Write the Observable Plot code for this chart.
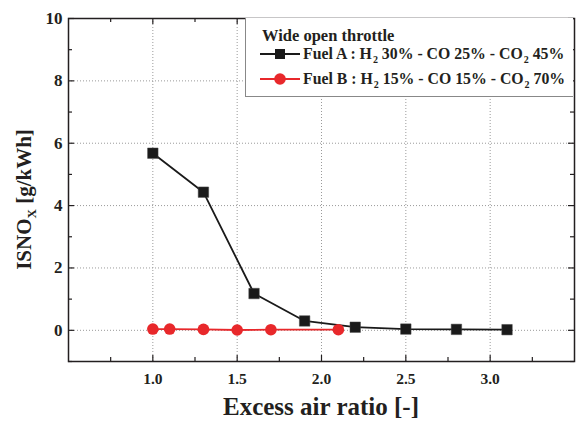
<!DOCTYPE html>
<html>
<head>
<meta charset="utf-8">
<script src="https://cdn.jsdelivr.net/npm/d3@7"></script>
<script src="https://cdn.jsdelivr.net/npm/@observablehq/plot@0.6"></script>
<style>
  body { margin: 0; background: #fff; }
  #chart { position: relative; width: 576px; height: 425px; font-family: "Liberation Serif", serif; color: #231f20; }
  #chart svg text { font-family: "Liberation Serif", serif; }
  #legend { position: absolute; left: 245px; top: 18px; width: 328px; height: 79px; background: #fff; border: 1px solid #888; border-top: none; border-right: none; box-sizing: border-box; font-weight: bold; }
  #legend .title { position: absolute; left: 16px; top: 8px; font-size: 16.5px; }
  #legend .item { position: absolute; left: 14px; font-size: 15.8px; white-space: nowrap; display: flex; align-items: center; }
  #legend .item svg { margin-right: 3px; }
  #legend sub { font-size: 10px; vertical-align: -4px; line-height: 0; margin-left: 1px; }
</style>
</head>
<body>
<div id="chart"></div>
<script>
// Data
const fuelAx = [1.0, 1.3, 1.6, 1.9, 2.2, 2.5, 2.8, 3.1];
const fuelAy = [5.68, 4.43, 1.18, 0.30, 0.10, 0.04, 0.03, 0.02];
const fuelBx = [1.0, 1.1, 1.3, 1.5, 1.7, 2.1];
const fuelBy = [0.04, 0.04, 0.03, 0.01, 0.02, 0.02];
const xMajor = [1.0, 1.5, 2.0, 2.5, 3.0];
const xMinor = [0.75, 1.25, 1.75, 2.25, 2.75, 3.25];
const yMajor = [0, 2, 4, 6, 8, 10];
const yMinor = [-1, 1, 3, 5, 7, 9];
const yGrid = [0, 2, 4, 6, 8];

const seriesA = fuelAx.map((x, i) => ({x, y: fuelAy[i]}));
const seriesB = fuelBx.map((x, i) => ({x, y: fuelBy[i]}));

const W = 576, H = 425, mL = 68, mR = 2, mT = 18, mB = 64;
const fw = W - mL - mR, fh = H - mT - mB;
const ink = "#231f20";
const serif = "Liberation Serif";
const majorLen = 6, minorLen = 4;

const plot = Plot.plot({
  width: W, height: H,
  marginLeft: mL, marginRight: mR, marginTop: mT, marginBottom: mB,
  style: {fontFamily: serif, color: ink, background: "transparent"},
  x: {domain: [0.5, 3.5]},
  y: {domain: [-1, 10]},
  marks: [
    Plot.gridX(xMajor, {stroke: "#9a9a9a", strokeOpacity: 1, strokeDasharray: "1,2"}),
    Plot.gridY(yGrid, {stroke: "#9a9a9a", strokeOpacity: 1, strokeDasharray: "1,2"}),
    // inward ticks
    Plot.tickX(xMajor, {x: d => d, insetTop: fh - majorLen, stroke: ink, strokeWidth: 1.2}),
    Plot.tickX(xMajor, {x: d => d, insetBottom: fh - majorLen, stroke: ink, strokeWidth: 1.2}),
    Plot.tickX(xMinor, {x: d => d, insetTop: fh - minorLen, stroke: ink, strokeWidth: 1.2}),
    Plot.tickX(xMinor, {x: d => d, insetBottom: fh - minorLen, stroke: ink, strokeWidth: 1.2}),
    Plot.tickY(yMajor, {y: d => d, insetRight: fw - majorLen, stroke: ink, strokeWidth: 1.2}),
    Plot.tickY(yMajor, {y: d => d, insetLeft: fw - majorLen, stroke: ink, strokeWidth: 1.2}),
    Plot.tickY(yMinor, {y: d => d, insetRight: fw - minorLen, stroke: ink, strokeWidth: 1.2}),
    Plot.tickY(yMinor, {y: d => d, insetLeft: fw - minorLen, stroke: ink, strokeWidth: 1.2}),
    Plot.axisX(xMajor, {tickSize: 0, tickPadding: 11, tickFormat: d3.format(".1f"), fontSize: 15.5, fontWeight: "bold", fontFamily: serif, label: null}),
    Plot.axisY(yMajor, {tickSize: 0, tickPadding: 6, fontSize: 17, fontWeight: "bold", fontFamily: serif, label: null}),
    Plot.frame({stroke: ink, strokeWidth: 1.5}),
    Plot.line(seriesA, {x: "x", y: "y", stroke: "#1a1a1a", strokeWidth: 1.8}),
    Plot.dot(seriesA, {x: "x", y: "y", symbol: "square", r: 5.9, fill: "#1a1a1a", stroke: "#444", strokeWidth: 0.5}),
    Plot.line(seriesB, {x: "x", y: "y", stroke: "#e8282b", strokeWidth: 1.8}),
    Plot.dot(seriesB, {x: "x", y: "y", symbol: "circle", r: 5.8, fill: "#e8282b"})
  ]
});

const chart = document.getElementById("chart");
chart.appendChild(plot);

const svg = d3.select(plot);
// x axis title
svg.append("text")
  .attr("x", (mL + W - mR) / 2).attr("y", 415)
  .attr("text-anchor", "middle")
  .style("font-family", serif)
  .attr("font-weight", "bold").attr("font-size", 25)
  .attr("fill", ink)
  .text("Excess air ratio [-]");
// y axis title with subscript
const yt = svg.append("text")
  .attr("transform", `translate(31,${mT + fh / 2 + 10}) rotate(-90)`)
  .attr("text-anchor", "middle")
  .style("font-family", serif)
  .attr("font-weight", "bold").attr("font-size", 21)
  .attr("fill", ink);
yt.append("tspan").text("ISNO");
yt.append("tspan").attr("font-size", 13).attr("dy", 5).text("X");
yt.append("tspan").attr("dy", -5).text(" [g/kWh]");

// Legend
const legend = document.createElement("div");
legend.id = "legend";
const sym = (color, shape) => {
  const s = d3.create("svg").attr("width", 40).attr("height", 14);
  s.append("line").attr("x1", 0).attr("x2", 40).attr("y1", 7).attr("y2", 7).attr("stroke", color).attr("stroke-width", 1.8);
  if (shape === "square") s.append("rect").attr("x", 15).attr("y", 2).attr("width", 10).attr("height", 10).attr("fill", color);
  else s.append("circle").attr("cx", 20).attr("cy", 7).attr("r", 5.8).attr("fill", color);
  return s.node();
};
legend.innerHTML = `<div class="title">Wide open throttle</div>
<div class="item" id="itA" style="top:27px"></div>
<div class="item" id="itB" style="top:52px"></div>`;
chart.appendChild(legend);
const itA = legend.querySelector("#itA"), itB = legend.querySelector("#itB");
itA.appendChild(sym("#1a1a1a", "square"));
itA.insertAdjacentHTML("beforeend", "<span>Fuel A : H<sub>2</sub> 30% - CO 25% - CO<sub>2</sub> 45%</span>");
itB.appendChild(sym("#e8282b", "circle"));
itB.insertAdjacentHTML("beforeend", "<span>Fuel B : H<sub>2</sub> 15% - CO 15% - CO<sub>2</sub> 70%</span>");
</script>
</body>
</html>
